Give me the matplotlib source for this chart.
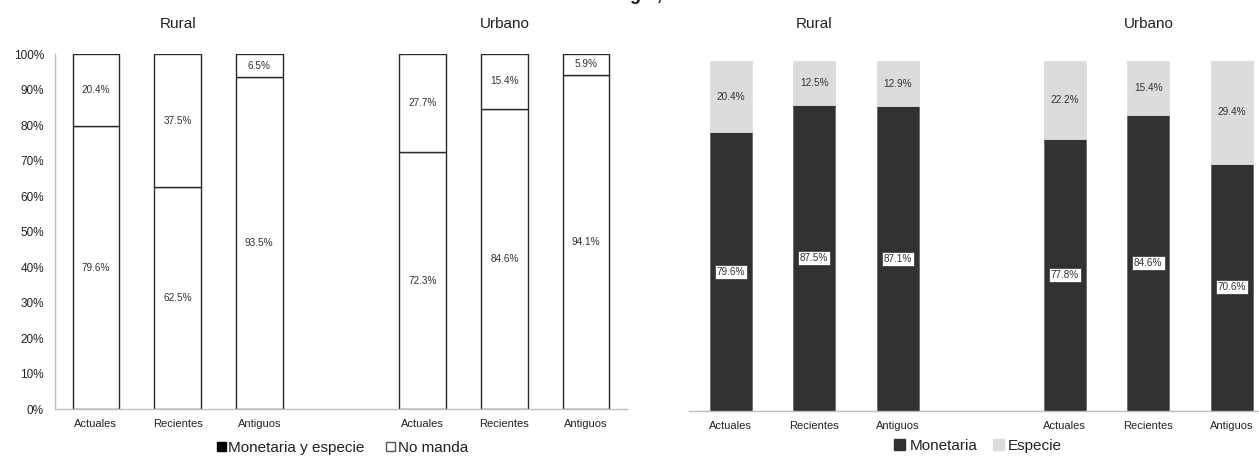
import matplotlib
matplotlib.use("Agg")
import matplotlib.pyplot as plt
from matplotlib.patches import Patch

plt.rcParams['font.family'] = ['Liberation Sans', 'DejaVu Sans']

# Datos
grupos = ['Rural', 'Urbano']
categorias = ['Actuales', 'Recientes', 'Antiguos']
posiciones = [0, 1, 2, 4, 5, 6]

mon_especie = [79.6, 62.5, 93.5, 72.3, 84.6, 94.1]
no_manda = [20.4, 37.5, 6.5, 27.7, 15.4, 5.9]

monetaria = [79.6, 87.5, 87.1, 77.8, 84.6, 70.6]
especie = [20.4, 12.5, 12.9, 22.2, 15.4, 29.4]

etiquetas_x = categorias * 2

OSCURO = '#323031'
CLARO = '#dbdcdd'
EJE = '#bfbfbf'

fig = plt.figure(figsize=(12.59, 4.59), dpi=100)

# Título (cortado en el borde superior)
fig.text(0.505, 1.0, 'hogar,', ha='center', va='baseline',
         fontsize=13, fontweight='bold', color='#1a1a1a')

# ------------------------------------------------------------
#  Panel izquierdo: envía / no manda
# ------------------------------------------------------------
ax1 = fig.add_axes([0.0437, 0.1089, 0.4543, 0.7734])
ax1.bar(posiciones, mon_especie, width=0.57, color='white',
        edgecolor='#2a2a2a', linewidth=1.0)
ax1.bar(posiciones, no_manda, width=0.57, bottom=mon_especie, color='white',
        edgecolor='#2a2a2a', linewidth=1.0)

for x, a, b in zip(posiciones, mon_especie, no_manda):
    ax1.text(x, a / 2, f'{a:.1f}%', ha='center', va='center',
             fontsize=7.2, color='#333333')
    ax1.text(x, a + b / 2, f'{b:.1f}%', ha='center', va='center',
             fontsize=7.2, color='#333333')

ax1.set_xlim(-0.5, 6.5)
ax1.set_ylim(0, 100)
ax1.set_yticks(range(0, 101, 10))
ax1.set_yticklabels([f'{v}%' for v in range(0, 101, 10)])
ax1.set_xticks(posiciones)
ax1.set_xticklabels(etiquetas_x)
ax1.tick_params(axis='y', length=0, pad=8, labelsize=8.5, colors='#222222')
ax1.tick_params(axis='x', length=0, pad=7, labelsize=8, colors='#222222')
for s in ['top', 'right']:
    ax1.spines[s].set_visible(False)
for s in ['left', 'bottom']:
    ax1.spines[s].set_color(EJE)
    ax1.spines[s].set_linewidth(1.0)

tr1 = ax1.get_xaxis_transform()
ax1.text(1, 1.085, grupos[0], transform=tr1, ha='center', va='center',
         fontsize=11, color='#222222')
ax1.text(5, 1.085, grupos[1], transform=tr1, ha='center', va='center',
         fontsize=11, color='#222222')

leg1 = fig.legend(
    handles=[Patch(facecolor='black', edgecolor='black', label='Monetaria y especie'),
             Patch(facecolor='white', edgecolor='#555555', label='No manda')],
    loc='center', bbox_to_anchor=(0.272, 0.024), ncol=2, frameon=False,
    fontsize=11, handlelength=0.6, handleheight=0.6, handletextpad=0.15,
    columnspacing=1.4)
for t in leg1.get_texts():
    t.set_color('#222222')

# ------------------------------------------------------------
#  Panel derecho: monetaria / especie
# ------------------------------------------------------------
ax2 = fig.add_axes([0.5473, 0.1046, 0.4643, 0.7625])
ax2.bar(posiciones, monetaria, width=0.5, color=OSCURO,
        edgecolor='#6a6a6a', linewidth=0.6)
ax2.bar(posiciones, especie, width=0.5, bottom=monetaria, color=CLARO,
        edgecolor=CLARO, linewidth=0.6)

for x, a, b in zip(posiciones, monetaria, especie):
    ax2.text(x, a / 2, f'{a:.1f}%', ha='center', va='center',
             fontsize=7.2, color='#333333',
             bbox=dict(boxstyle='square,pad=0.2', facecolor='white',
                       edgecolor='#444444', linewidth=0.6))
    ax2.text(x, a + b / 2, f'{b:.1f}%', ha='center', va='center',
             fontsize=7.2, color='#333333')

ax2.set_xlim(-0.5, 6.5)
ax2.set_ylim(0, 100)
ax2.set_yticks([])
ax2.set_xticks(posiciones)
ax2.set_xticklabels(etiquetas_x)
ax2.tick_params(axis='x', length=0, pad=7, labelsize=8, colors='#222222')
for s in ['top', 'right', 'left']:
    ax2.spines[s].set_visible(False)
ax2.spines['bottom'].set_color(EJE)
ax2.spines['bottom'].set_linewidth(1.0)

tr2 = ax2.get_xaxis_transform()
ax2.text(1, 1.105, grupos[0], transform=tr2, ha='center', va='center',
         fontsize=11, color='#222222')
ax2.text(5, 1.105, grupos[1], transform=tr2, ha='center', va='center',
         fontsize=11, color='#222222')

leg2 = fig.legend(
    handles=[Patch(facecolor=OSCURO, edgecolor=OSCURO, label='Monetaria'),
             Patch(facecolor=CLARO, edgecolor=CLARO, label='Especie')],
    loc='center', bbox_to_anchor=(0.777, 0.029), ncol=2, frameon=False,
    fontsize=11, handlelength=0.7, handleheight=0.7, handletextpad=0.3,
    columnspacing=1.0)
for t in leg2.get_texts():
    t.set_color('#222222')

fig.savefig('out.png', dpi=100)
